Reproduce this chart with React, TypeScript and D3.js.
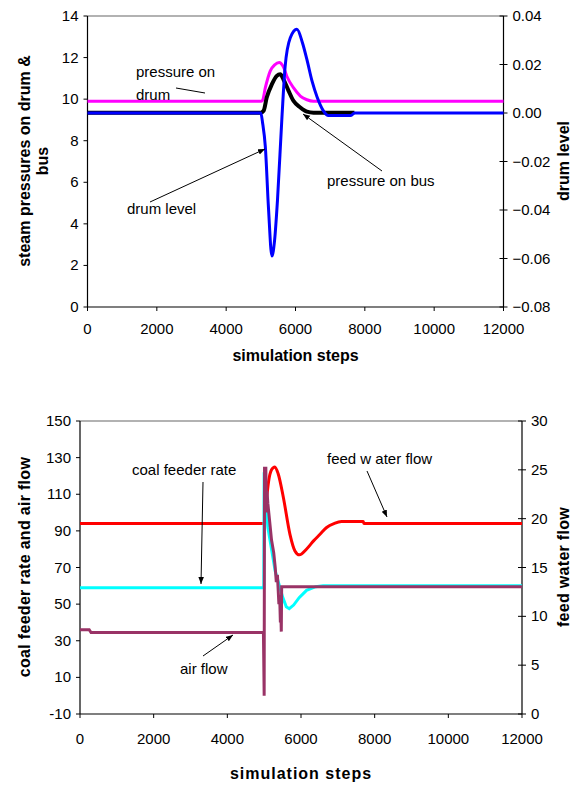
import React from "react";
import * as d3 from "d3";

// top chart: steam pressures + drum level
const pressureDrumSteps = [0, 5000, 5050, 5130, 5270, 5400, 5530, 5650, 5750, 5940, 6140, 6330, 6520, 12000];
const pressureDrumVals = [9.9, 9.9, 9.95, 10.55, 11.35, 11.65, 11.76, 11.55, 11.1, 10.55, 10.15, 9.97, 9.9, 9.9];

const pressureBusSteps = [0, 5000, 5080, 5170, 5320, 5460, 5560, 5650, 5800, 5940, 6140, 6330, 6520, 7700];
const pressureBusVals = [9.35, 9.35, 9.44, 10.08, 10.72, 11.12, 11.2, 10.96, 10.4, 9.92, 9.6, 9.4, 9.35, 9.35];

const drumLevelSteps = [0, 5000, 5050, 5130, 5220, 5320, 5400, 5480, 5610, 5700, 5850, 6040, 6200, 6330, 6480, 6620, 6800, 6950, 7600, 7700, 12000];
const drumLevelVals = [0, 0, -0.004, -0.014, -0.039, -0.059, -0.052, -0.036, -0.0015, 0.019, 0.031, 0.0345, 0.029, 0.022, 0.013, 0.0067, 0.001, -0.001, -0.001, 0, 0];

// bottom chart: coal feeder, air flow, feed water
const feedWaterSteps = [0, 5000, 5040, 5120, 5200, 5290, 5380, 5520, 5700, 5836, 5955, 6153, 6334, 6516, 6696, 6900, 7100, 7690, 7710, 12000];
const feedWaterVals = [19.5, 19.5, 21, 23.8, 25, 25.3, 24.6, 22.2, 18.4, 16.7, 16.3, 16.9, 17.7, 18.4, 19.1, 19.5, 19.7, 19.7, 19.5, 19.5];

const coalSteps = [0, 4990, 5000, 5030, 5100, 5200, 5300, 5400, 5500, 5600, 5680, 5800, 5950, 6150, 6400, 6600, 12000];
const coalVals = [59, 59, 122, 110, 92, 80, 68, 61, 54, 48.5, 47.5, 49.5, 53.5, 57.5, 59.5, 60, 60];

const airSteps = [0, 250, 300, 4980, 5000, 5010, 5030, 5045, 5060, 5075, 5100, 5150, 5200, 5260, 5300, 5330, 5360, 5400, 5420, 5440, 5455, 5465, 5475, 12000];
const airVals = [36, 36, 34.5, 34.5, 0, 125, 118, 125, 100, 112, 105, 95, 85, 78, 70, 62, 66, 50, 55, 40, 44, 35, 59.5, 59.5];

const stepTicks = [0, 2000, 4000, 6000, 8000, 10000, 12000];
const pressureTicks = [0, 2, 4, 6, 8, 10, 12, 14];
const levelTicks = [-0.08, -0.06, -0.04, -0.02, 0, 0.02, 0.04];
const coalTicks = [-10, 10, 30, 50, 70, 90, 110, 130, 150];
const feedTicks = [0, 5, 10, 15, 20, 25, 30];

const font = "'Liberation Sans', Arial, sans-serif";

const zip = (xs: number[], ys: number[]) => xs.map((x, i) => [x, ys[i]] as [number, number]);

function Axes({ x, yl, yr, ylFmt, yrFmt, ylTicks, yrTicks, title, letter, labelDy, titleDy }: any) {
  const [x0, x1] = x.range();
  const [yb, yt] = yl.range();
  return (
    <g fontFamily={font} fontSize={15}>
      <line x1={x0} x2={x1} y1={yt} y2={yt} stroke="#999" strokeWidth={1.5} />
      <line x1={x0} x2={x1} y1={yb} y2={yb} stroke="#000" strokeWidth={1.2} />
      <line x1={x0} x2={x0} y1={yt} y2={yb} stroke="#000" strokeWidth={1.2} />
      <line x1={x1} x2={x1} y1={yt} y2={yb} stroke="#000" strokeWidth={1.2} />
      {stepTicks.map((t) => (
        <g key={"x" + t}>
          <line x1={x(t)} x2={x(t)} y1={yb} y2={yb + 4} stroke="#000" />
          <text x={x(t)} y={yb + labelDy} textAnchor="middle">{t}</text>
        </g>
      ))}
      {ylTicks.map((t: number) => (
        <g key={"l" + t}>
          <line x1={x0 - 4} x2={x0} y1={yl(t)} y2={yl(t)} stroke="#000" />
          <text x={x0 - 9} y={yl(t) + 5} textAnchor="end">{ylFmt(t)}</text>
        </g>
      ))}
      {yrTicks.map((t: number) => (
        <g key={"r" + t}>
          <line x1={x1 - 4} x2={x1 + 4} y1={yr(t)} y2={yr(t)} stroke="#000" />
          <text x={x1 + 9} y={yr(t) + 5}>{yrFmt(t)}</text>
        </g>
      ))}
      <text x={(x0 + x1) / 2} y={yb + titleDy} textAnchor="middle" fontWeight="bold" fontSize={16} letterSpacing={letter}>{title}</text>
    </g>
  );
}

export default function App() {
  // top chart scales
  const xT = d3.scaleLinear().domain([0, 12000]).range([87.5, 503.5]);
  const yP = d3.scaleLinear().domain([0, 14]).range([307, 16]);
  const yD = d3.scaleLinear().domain([-0.08, 0.04]).range([307, 16]);
  // bottom chart scales
  const xB = d3.scaleLinear().domain([0, 12000]).range([80, 522]);
  const yC = d3.scaleLinear().domain([-10, 150]).range([714, 421]);
  const yF = d3.scaleLinear().domain([0, 30]).range([714, 421]);

  const smooth = (x: any, y: any) => d3.line<[number, number]>().x((d) => x(d[0])).y((d) => y(d[1])).curve(d3.curveMonotoneX);
  const straight = (x: any, y: any) => d3.line<[number, number]>().x((d) => x(d[0])).y((d) => y(d[1]));

  const fmt2 = d3.format(".2f");

  return (
    <div style={{ position: "absolute", left: 0, top: 0 }}>
      <svg width={581} height={785} style={{ display: "block", background: "#fff" }}>
        <defs>
          <marker id="arr" viewBox="0 0 10 10" refX={10} refY={5} markerWidth={7} markerHeight={7} orient="auto">
            <path d="M0,1 L10,5 L0,9 z" fill="#000" />
          </marker>
        </defs>

        {/* top chart */}
        <Axes x={xT} yl={yP} yr={yD} ylTicks={pressureTicks} yrTicks={levelTicks} ylFmt={(t: number) => t} yrFmt={fmt2} title="simulation steps" letter={0} labelDy={27} titleDy={54} />
        <path d={smooth(xT, yP)(zip(pressureDrumSteps, pressureDrumVals)) || ""} fill="none" stroke="#ff00ff" strokeWidth={3} />
        <path d={smooth(xT, yP)(zip(pressureBusSteps, pressureBusVals)) || ""} fill="none" stroke="#000" strokeWidth={4} />
        <path d={smooth(xT, yD)(zip(drumLevelSteps, drumLevelVals)) || ""} fill="none" stroke="#0000ff" strokeWidth={3} />

        <g fontFamily={font} fontSize={15}>
          <text x={136} y={77}>pressure on</text>
          <text x={136} y={100}>drum</text>
          <line x1={176} x2={205} y1={88} y2={93} stroke="#000" />
          <text x={127} y={214}>drum level</text>
          <line x1={150} y1={202} x2={265} y2={149} stroke="#000" markerEnd="url(#arr)" />
          <text x={327} y={186}>pressure on bus</text>
          <line x1={382} y1={171} x2={303} y2={114} stroke="#000" markerEnd="url(#arr)" />
        </g>

        <g fontFamily={font} fontSize={16} fontWeight="bold">
          <text transform="translate(30,161) rotate(-90)" textAnchor="middle">steam pressures on drum &amp;</text>
          <text transform="translate(48,161) rotate(-90)" textAnchor="middle">bus</text>
          <text transform="translate(569,161) rotate(-90)" textAnchor="middle">drum level</text>
        </g>

        {/* bottom chart */}
        <Axes x={xB} yl={yC} yr={yF} ylTicks={coalTicks} yrTicks={feedTicks} ylFmt={(t: number) => t} yrFmt={(t: number) => t} title="simulation steps" letter={1} labelDy={30} titleDy={65} />
        <path d={smooth(xB, yF)(zip(feedWaterSteps, feedWaterVals)) || ""} fill="none" stroke="#ff0000" strokeWidth={3} />
        <path d={straight(xB, yC)(zip(coalSteps, coalVals)) || ""} fill="none" stroke="#00ffff" strokeWidth={3} />
        <path d={straight(xB, yC)(zip(airSteps, airVals)) || ""} fill="none" stroke="#993366" strokeWidth={3} />

        <g fontFamily={font} fontSize={15}>
          <text x={132} y={475}>coal feeder rate</text>
          <line x1={203} y1={482} x2={201} y2={584} stroke="#000" markerEnd="url(#arr)" />
          <text x={327} y={464}>feed w ater flow</text>
          <line x1={367} y1={471} x2={387} y2={517} stroke="#000" markerEnd="url(#arr)" />
          <text x={180} y={674}>air flow</text>
          <line x1={203} y1={656} x2={233} y2={635} stroke="#000" markerEnd="url(#arr)" />
        </g>

        <g fontFamily={font} fontSize={16} fontWeight="bold" letterSpacing={0.3}>
          <text transform="translate(30,567) rotate(-90)" textAnchor="middle">coal feeder rate and air flow</text>
          <text transform="translate(569,567) rotate(-90)" textAnchor="middle">feed water flow</text>
        </g>
      </svg>
    </div>
  );
}
